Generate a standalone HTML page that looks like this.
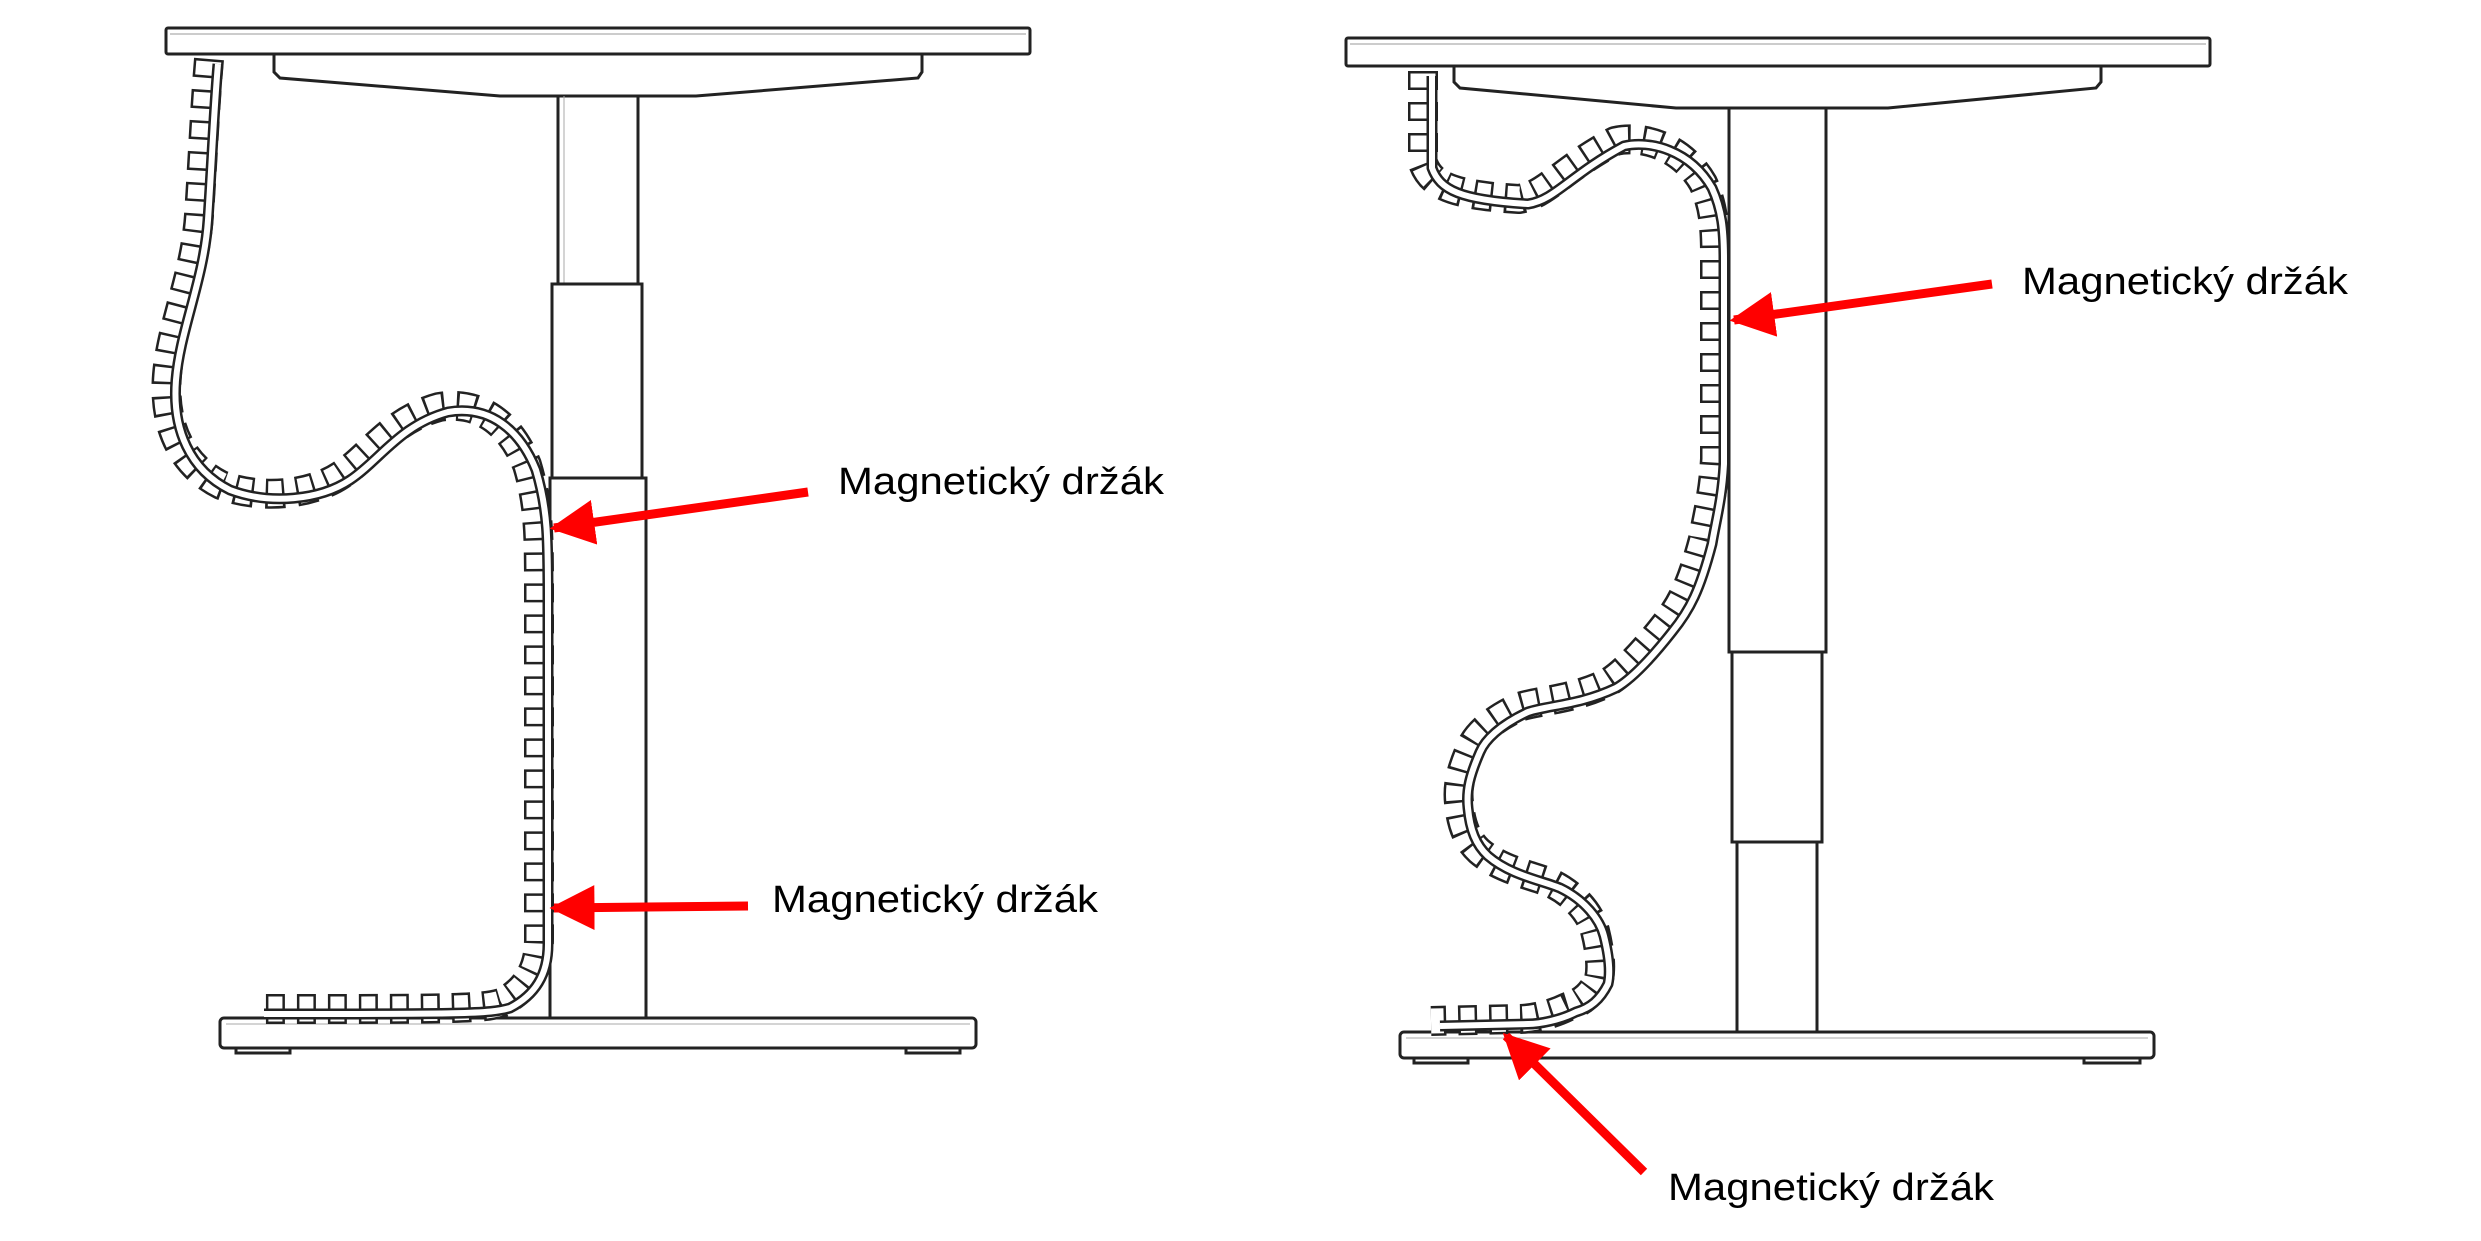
<!DOCTYPE html>
<html><head><meta charset="utf-8"><style>
html,body{margin:0;padding:0;background:#fff}
svg{display:block}
text{font-family:"Liberation Sans",sans-serif;font-size:38px;fill:#000}
</style></head><body>
<svg width="2481" height="1241" viewBox="0 0 2481 1241" xmlns="http://www.w3.org/2000/svg">
<defs>
<marker id="ah" viewBox="0 0 10 10" refX="9" refY="5" markerWidth="5" markerHeight="5" orient="auto" markerUnits="strokeWidth">
<path d="M0,0 L10,5 L0,10 z" fill="#f00"/></marker>
<path id="p1" d="M218,64 C214,110 212,160 208,220 C204,280 180,330 176,380 C172,430 190,470 230,490 C270,505 320,500 350,480 C380,460 400,425 448,412 C490,405 520,430 536,470 C548,510 548,540 548,600 L548,944 C548,975 535,995 510,1008 C490,1014 460,1014 264,1014"/>
<path id="p2" d="M1432,76 L1432,168 C1440,190 1460,200 1528,204 C1555,200 1570,175 1624,146 C1650,140 1690,150 1712,188 C1722,210 1724,230 1724,260 L1724,464 C1722,500 1716,520 1712,544 C1700,590 1690,610 1672,632 C1650,660 1630,680 1616,688 C1580,705 1550,705 1528,712 C1500,725 1485,740 1480,752 C1470,775 1466,790 1468,808 C1470,830 1476,845 1488,856 C1510,875 1540,880 1560,888 C1585,900 1600,920 1604,936 C1610,960 1610,975 1608,984 C1600,1000 1590,1008 1576,1012 C1560,1020 1540,1024 1528,1024 L1440,1026"/>
</defs>
<g fill="#fff" stroke="#222" stroke-width="3">
<rect x="166" y="28" width="864" height="26" rx="2"/>
<line x1="170" y1="34" x2="1026" y2="34" stroke="#999" stroke-width="1"/>
<path d="M274,54 L922,54 L922,72 L918,78 L696,96 L500,96 L280,78 L274,72 Z"/>
<rect x="558" y="96" width="80" height="188"/>
<line x1="564" y1="96" x2="564" y2="284" stroke="#aaa" stroke-width="1"/>
<rect x="552" y="284" width="90" height="194"/>
<rect x="550" y="478" width="96" height="540"/>
<rect x="220" y="1018" width="756" height="30" rx="4"/>
<line x1="226" y1="1024" x2="970" y2="1024" stroke="#aaa" stroke-width="1"/>
<rect x="236" y="1048" width="54" height="5"/>
<rect x="906" y="1048" width="54" height="5"/>
<rect x="1346" y="38" width="864" height="28" rx="2"/>
<line x1="1350" y1="44" x2="2206" y2="44" stroke="#999" stroke-width="1"/>
<path d="M1454,66 L2101,66 L2101,82 L2096,88 L1888,108 L1676,108 L1460,88 L1454,82 Z"/>
<rect x="1729" y="108" width="97" height="544"/>
<rect x="1732" y="652" width="90" height="190"/>
<rect x="1737" y="842" width="80" height="190"/>
<rect x="1400" y="1032" width="754" height="26" rx="4"/>
<line x1="1406" y1="1038" x2="2148" y2="1038" stroke="#aaa" stroke-width="1"/>
<rect x="1414" y="1058" width="54" height="5"/>
<rect x="2084" y="1058" width="56" height="5"/>
</g>
<g fill="none" stroke-linejoin="round">
<g transform="translate(-9,-5)">
<use href="#p1" stroke="#222" stroke-width="30" stroke-dasharray="19 12"/>
<use href="#p1" stroke="#fff" stroke-width="25" stroke-dasharray="14 17" stroke-dashoffset="-2.5"/>
<use href="#p2" stroke="#222" stroke-width="30" stroke-dasharray="19 12"/>
<use href="#p2" stroke="#fff" stroke-width="25" stroke-dasharray="14 17" stroke-dashoffset="-2.5"/>
</g>
<use href="#p1" stroke="#222" stroke-width="11"/>
<use href="#p1" stroke="#fff" stroke-width="6"/>
<use href="#p2" stroke="#222" stroke-width="11"/>
<use href="#p2" stroke="#fff" stroke-width="6"/>
</g>
<g stroke="#f00" stroke-width="9" fill="none">
<line x1="808" y1="492" x2="554" y2="528" marker-end="url(#ah)"/>
<line x1="748" y1="906" x2="554" y2="908" marker-end="url(#ah)"/>
<line x1="1992" y1="284" x2="1734" y2="320" marker-end="url(#ah)"/>
<line x1="1644" y1="1172" x2="1506" y2="1036" marker-end="url(#ah)"/>
</g>
<text x="838" y="494" textLength="326" lengthAdjust="spacingAndGlyphs">Magnetický držák</text>
<text x="772" y="912" textLength="326" lengthAdjust="spacingAndGlyphs">Magnetický držák</text>
<text x="2022" y="294" textLength="326" lengthAdjust="spacingAndGlyphs">Magnetický držák</text>
<text x="1668" y="1200" textLength="326" lengthAdjust="spacingAndGlyphs">Magnetický držák</text>
</svg>
</body></html>
